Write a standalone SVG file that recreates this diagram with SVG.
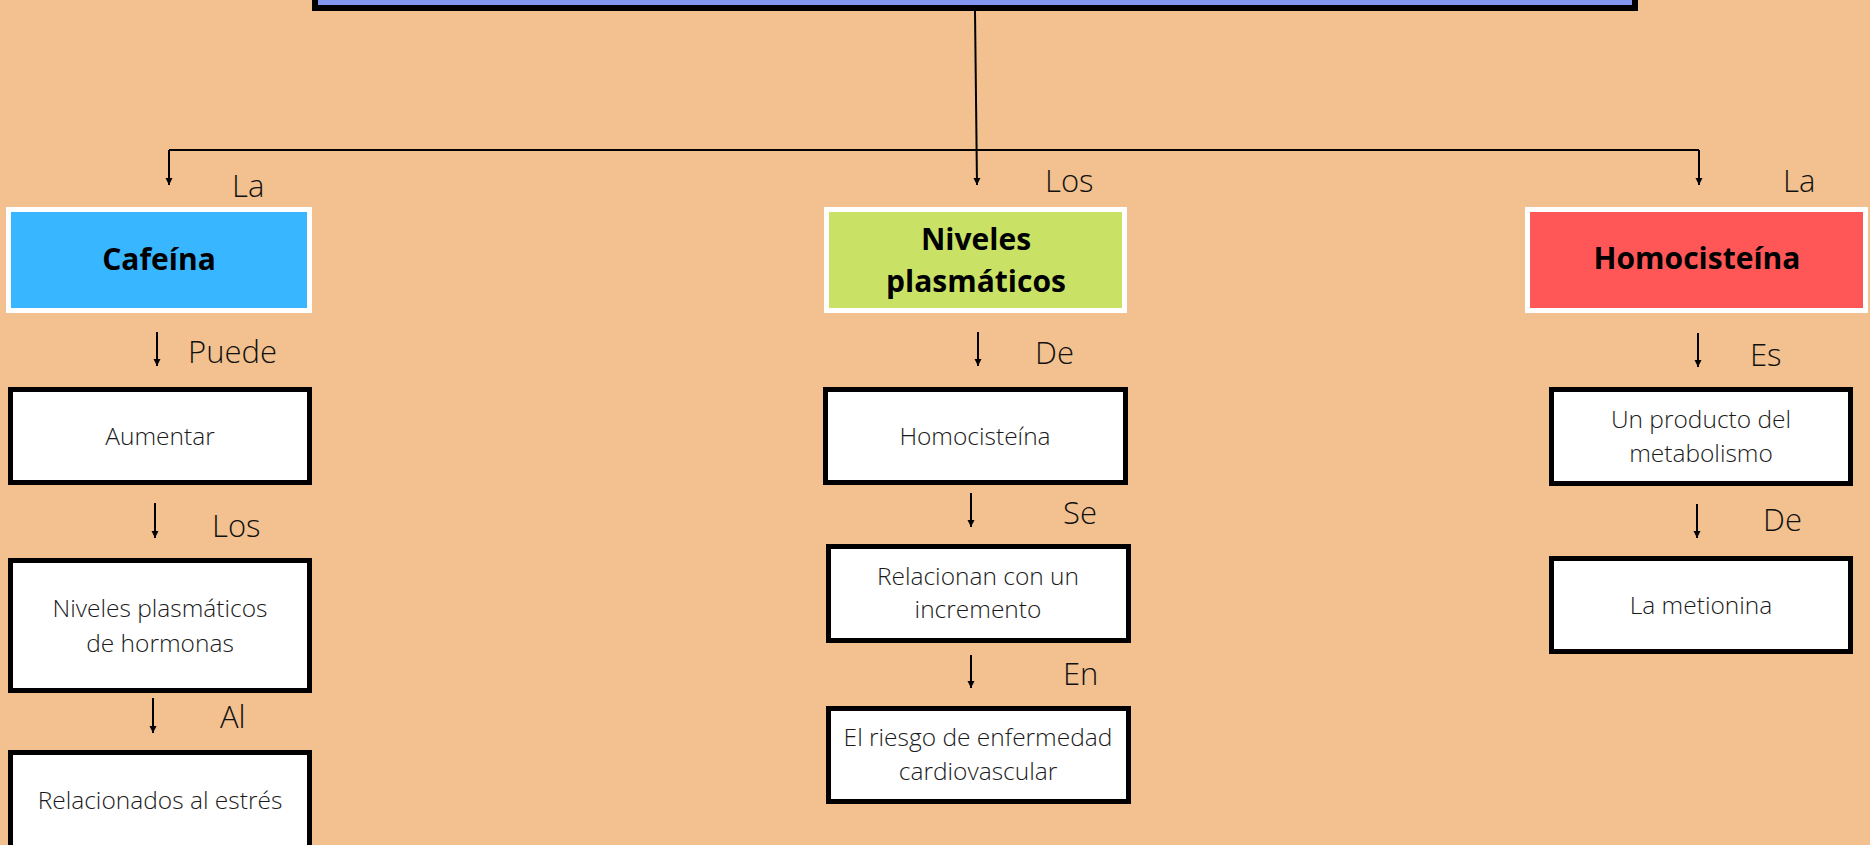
<svg xmlns="http://www.w3.org/2000/svg" width="1870" height="845" viewBox="0 0 1870 845">
  <defs>
    <marker id="ah" markerUnits="userSpaceOnUse" markerWidth="8" markerHeight="8" viewBox="0 -4 7 8" refX="7" refY="0" orient="auto">
      <path d="M0,-3.5 L7,0 L0,3.5 z" fill="#000"/>
    </marker>
    <style>
      .bg { fill: #F2C18F; }
      .head { stroke: #FFFFFF; stroke-width: 5; }
      .box { fill: #FFFFFF; stroke: #000; stroke-width: 5; }
      .conn { fill: none; stroke: #000; stroke-width: 2; }
      .arr { fill: none; stroke: #000; stroke-width: 2; marker-end: url(#ah); }
      .lbl { font-family: "Open Sans", "Liberation Sans", sans-serif; font-weight: 300; font-size: 31px; fill: #111; }
      .txt { font-family: "Open Sans", "Liberation Sans", sans-serif; font-weight: 300; font-size: 24.5px; fill: #1a1a1a; text-anchor: middle; }
      .htxt { font-family: "Open Sans", "Liberation Sans", sans-serif; font-weight: 700; font-size: 30px; fill: #000; text-anchor: middle; }
    </style>
  </defs>
  <rect class="bg" x="0" y="0" width="1870" height="845"/>

  <g id="title">
    <rect x="315" y="-50" width="1320" height="58" fill="#8497F0" stroke="#000" stroke-width="6"/>
  </g>

  <g id="connectors">
    <path class="arr" d="M975,11 L977,185"/>
    <path class="conn" d="M169,150 H1699"/>
    <path class="arr" d="M169,150 V185"/>
    <path class="arr" d="M1699,150 V185"/>
    <path class="arr" d="M157,332 V366"/>
    <path class="arr" d="M155,503 V538"/>
    <path class="arr" d="M153,698 V733"/>
    <path class="arr" d="M978,332 V366"/>
    <path class="arr" d="M971,493 V527"/>
    <path class="arr" d="M971,655 V688"/>
    <path class="arr" d="M1698,333 V367"/>
    <path class="arr" d="M1697,504 V538"/>
  </g>

  <g id="labels">
    <text class="lbl" x="232" y="197">La</text>
    <text class="lbl" x="1045" y="192">Los</text>
    <text class="lbl" x="1783" y="192">La</text>
    <text class="lbl" x="188" y="363">Puede</text>
    <text class="lbl" x="212" y="537">Los</text>
    <text class="lbl" x="220" y="728">Al</text>
    <text class="lbl" x="1035" y="364">De</text>
    <text class="lbl" x="1063" y="524">Se</text>
    <text class="lbl" x="1063" y="685">En</text>
    <text class="lbl" x="1750" y="366">Es</text>
    <text class="lbl" x="1763" y="531">De</text>
  </g>

  <g id="cafeina">
    <rect class="head" x="8.5" y="209.5" width="301" height="101" fill="#38B6FF"/>
    <text class="htxt" x="159" y="270">Cafeína</text>
  </g>
  <g id="niveles-plasmaticos">
    <rect class="head" x="826.5" y="209.5" width="298" height="101" fill="#C9E265"/>
    <text class="htxt" x="976" y="250">Niveles</text>
    <text class="htxt" x="976" y="292">plasmáticos</text>
  </g>
  <g id="homocisteina-head">
    <rect class="head" x="1527.5" y="209.5" width="338" height="101" fill="#FF5757"/>
    <text class="htxt" x="1697" y="269">Homocisteína</text>
  </g>

  <g id="aumentar">
    <rect class="box" x="10.5" y="389.5" width="299" height="93"/>
    <text class="txt" x="160" y="445">Aumentar</text>
  </g>
  <g id="niveles-hormonas">
    <rect class="box" x="10.5" y="560.5" width="299" height="130"/>
    <text class="txt" x="160" y="617">Niveles plasmáticos</text>
    <text class="txt" x="160" y="652">de hormonas</text>
  </g>
  <g id="relacionados">
    <rect class="box" x="10.5" y="752.5" width="299" height="130"/>
    <text class="txt" x="160" y="809">Relacionados al estrés</text>
  </g>

  <g id="homocisteina">
    <rect class="box" x="825.5" y="389.5" width="300" height="93"/>
    <text class="txt" x="975" y="445">Homocisteína</text>
  </g>
  <g id="relacionan">
    <rect class="box" x="828.5" y="546.5" width="300" height="94"/>
    <text class="txt" x="978" y="585">Relacionan con un</text>
    <text class="txt" x="978" y="618">incremento</text>
  </g>
  <g id="riesgo">
    <rect class="box" x="828.5" y="708.5" width="300" height="93"/>
    <text class="txt" x="978" y="746">El riesgo de enfermedad</text>
    <text class="txt" x="978" y="780">cardiovascular</text>
  </g>

  <g id="producto">
    <rect class="box" x="1551.5" y="389.5" width="299" height="94"/>
    <text class="txt" x="1701" y="428">Un producto del</text>
    <text class="txt" x="1701" y="462">metabolismo</text>
  </g>
  <g id="metionina">
    <rect class="box" x="1551.5" y="558.5" width="299" height="93"/>
    <text class="txt" x="1701" y="614">La metionina</text>
  </g>
</svg>
